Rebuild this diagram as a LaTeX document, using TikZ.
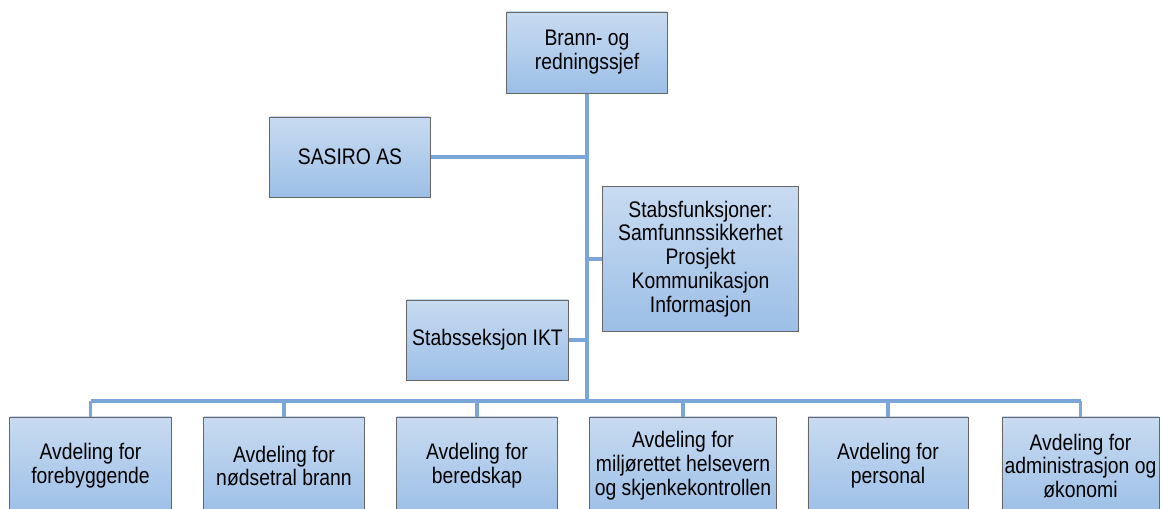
\documentclass[tikz,border=0pt]{standalone}
\usepackage{fontspec}
\setmainfont{Liberation Sans}[FakeStretch=0.86]
\usetikzlibrary{positioning}

\definecolor{boxtop}{HTML}{C8DBF1}
\definecolor{boxbot}{HTML}{9CBFE7}
\definecolor{boxline}{HTML}{666666}
\definecolor{linkblue}{HTML}{7AA6D8}

\tikzset{
  unit/.style={draw=boxline, line width=0.7pt, top color=boxtop, bottom color=boxbot,
    align=center, inner sep=1pt, font=\fontsize{16}{17}\selectfont},
  link/.style={draw=linkblue, line width=2.3pt}
}

\begin{document}
\begin{tikzpicture}[x=0.025cm, y=-0.025cm]
  \clip (0,0) rectangle (1162,508);

  % ledelse
  \node[unit, minimum width=4cm, minimum height=2.025cm] (sjef) at (587,52.5)
    {Brann- og\\redningssjef};

  % stab
  \node[unit, minimum width=4cm, minimum height=2cm] (sasiro) at (350,157) {SASIRO AS};
  \node[unit, minimum width=4.875cm, minimum height=3.6cm] (stab) at (700.5,259)
    {Stabsfunksjoner:\\Samfunnssikkerhet\\Prosjekt\\Kommunikasjon\\Informasjon};
  \node[unit, minimum width=4.025cm, minimum height=2cm] (ikt) at (487.5,340)
    {Stabsseksjon IKT};

  % avdelinger
  \node[unit, minimum width=4.025cm, minimum height=2.45cm] (avd1) at (90.5,466)
    {Avdeling for\\forebyggende};
  \node[unit, minimum width=4cm, minimum height=2.45cm] (avd2) at (284,466)
    {Avdeling for\\nødsetral brann};
  \node[unit, minimum width=4cm, minimum height=2.45cm] (avd3) at (477,466)
    {Avdeling for\\beredskap};
  \node[unit, minimum width=4.65cm, minimum height=2.45cm] (avd4) at (683,466)
    {Avdeling for\\miljørettet helsevern\\og skjenkekontrollen};
  \node[unit, minimum width=4cm, minimum height=2.45cm] (avd5) at (888,466)
    {Avdeling for\\personal};
  \node[unit, minimum width=3.925cm, minimum height=2.45cm] (avd6) at (1080.5,466)
    {Avdeling for\\administrasjon og\\økonomi};

  % linjer
  \coordinate (bus) at (586,401);
  \draw[link] (sjef.south) -- (sjef.south |- bus);
  \draw[link] (sasiro.east) -- (sasiro.east -| sjef.south);
  \draw[link] (stab.west) -- (stab.west -| sjef.south);
  \draw[link] (ikt.east) -- (ikt.east -| sjef.south);
  \draw[link] (avd1.north |- bus) -- (avd6.north |- bus);
  \foreach \i in {1,...,6}
    \draw[link] (avd\i.north) -- (avd\i.north |- bus);
\end{tikzpicture}
\end{document}
